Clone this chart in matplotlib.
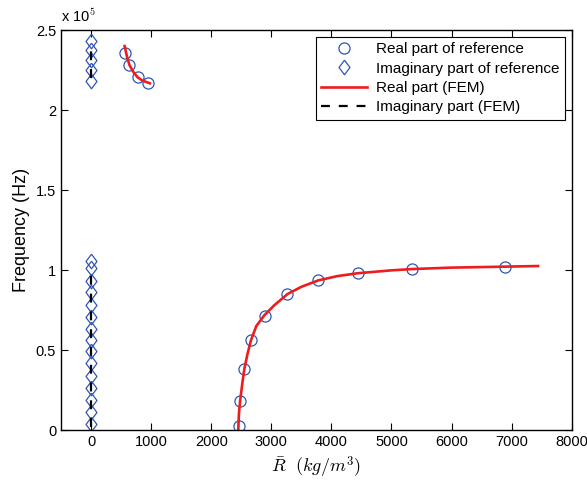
import numpy as np
import matplotlib
matplotlib.use('Agg')
import matplotlib.pyplot as plt

plt.rcParams['font.family'] = ['Liberation Sans', 'DejaVu Sans']
plt.rcParams['mathtext.fontset'] = 'cm'

# reference data (frequency in units of 1e5 Hz)
real_ref_R = [2462, 2478, 2550, 2661, 2893, 3268, 3781, 4444, 5343, 6882,
              563, 636, 773, 939]
real_ref_f = [0.027, 0.181, 0.381, 0.5625, 0.714, 0.85, 0.936, 0.98, 1.006, 1.019,
              2.358, 2.281, 2.208, 2.17]

imag_ref_R = [0] * 20
imag_ref_f = [1.056, 1.0125, 0.931, 0.8625, 0.781, 0.706, 0.631, 0.5625, 0.494,
              0.419, 0.3375, 0.2625, 0.1875, 0.1125, 0.0375,
              2.43, 2.375, 2.31, 2.25, 2.18]

# FEM real part, lower and upper branch
fem_lo_R = [2450, 2460, 2480, 2520, 2550, 2600, 2660, 2750, 2890, 3050, 3270,
            3500, 3780, 4100, 4440, 5000, 5340, 6000, 6880, 7440]
fem_lo_f = [0.0, 0.10, 0.18, 0.30, 0.38, 0.47, 0.56, 0.65, 0.72, 0.78, 0.85,
            0.895, 0.935, 0.962, 0.98, 0.998, 1.006, 1.015, 1.021, 1.025]
fem_hi_R = [558, 600, 640, 700, 773, 850, 977]
fem_hi_f = [2.40, 2.33, 2.28, 2.24, 2.205, 2.185, 2.167]

# FEM imaginary part (vertical segments at R = 0)
fem_im_lo_R = [0, 0]
fem_im_lo_f = [0.02, 1.0]
fem_im_hi_R = [0, 0]
fem_im_hi_f = [2.2, 2.39]

blue = '#2f55b4'
red = '#ee1c1c'
diamond = [(0, 1), (0.75, 0), (0, -1), (-0.75, 0), (0, 1)]

fig = plt.figure(figsize=(5.87, 4.86), dpi=100)
ax = fig.add_axes([0.104, 0.1152, 0.87, 0.823])

ax.plot(real_ref_R, real_ref_f, 'o', mfc='none', mec=blue, ms=8, mew=0.9,
        label='Real part of reference')
ax.plot(imag_ref_R, imag_ref_f, ls='none', marker=diamond, mfc='none', mec=blue,
        ms=10.5, mew=0.9, label='Imaginary part of reference')
ax.plot(fem_lo_R, fem_lo_f, '-', color=red, lw=1.9, label='Real part (FEM)')
ax.plot(fem_hi_R, fem_hi_f, '-', color=red, lw=1.9)
ax.plot(fem_im_lo_R, fem_im_lo_f, '--', color='black', lw=1.6,
        dashes=(4, 4), label='Imaginary part (FEM)')
ax.plot(fem_im_hi_R, fem_im_hi_f, '--', color='black', lw=1.6, dashes=(4, 4))

ax.set_xlim(-500, 8000)
ax.set_ylim(0, 2.5)
ax.set_xticks(np.arange(0, 8001, 1000))
ax.set_yticks([0, 0.5, 1, 1.5, 2, 2.5])
ax.set_yticklabels(['0', '0.5', '1', '1.5', '2', '2.5'])
ax.tick_params(direction='in', top=True, right=True, labelsize=10.5, length=5)
for s in ax.spines.values():
    s.set_linewidth(1.0)

ax.text(0.0, 1.012, 'x 10$^{5}$', transform=ax.transAxes, fontsize=10.5,
        ha='left', va='bottom')
ax.set_ylabel('Frequency (Hz)', fontsize=13)
ax.set_xlabel(r'$\bar{R}\ \ (kg/m^3)$', fontsize=13)

leg = ax.legend(loc='upper right', fontsize=11, frameon=True, fancybox=False,
                edgecolor='black', framealpha=1, handlelength=3.0,
                borderaxespad=0.45, labelspacing=0.35, borderpad=0.35,
                handletextpad=0.6)
leg.get_frame().set_linewidth(0.8)

fig.savefig('out.png', dpi=100)
